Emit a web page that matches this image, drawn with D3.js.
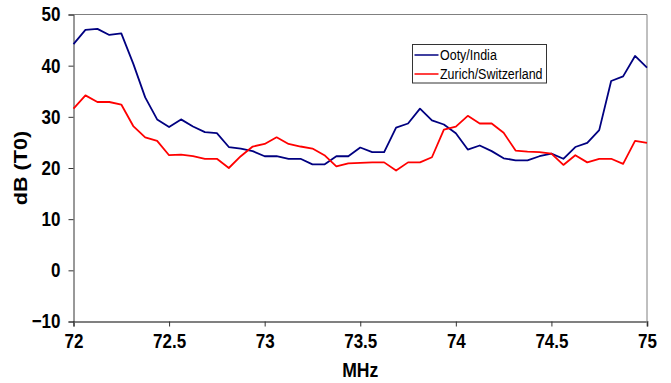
<!DOCTYPE html>
<html>
<head>
<meta charset="utf-8">
<script src="https://cdn.jsdelivr.net/npm/d3@7/dist/d3.min.js"></script>
<style>
  body { margin: 0; background: #fff; }
  svg { display: block; font-family: "Liberation Sans", Arial, sans-serif; }
</style>
</head>
<body>
<div id="chart"></div>
<script>
// frequency samples: 72 MHz to 75 MHz in steps of 1/16 MHz
const freqStart = 72, freqStep = 0.0625;

const ooty = [
    44.2, 47.0, 47.2, 46.0, 46.3, 40.4, 33.8, 29.5, 28.0, 29.5,
    28.1, 27.0, 26.8, 24.1, 23.8, 23.3, 22.3, 22.3, 21.8, 21.8,
    20.7, 20.7, 22.3, 22.3, 24.0, 23.1, 23.1, 27.9, 28.7, 31.6,
    29.3, 28.5, 26.8, 23.6, 24.4, 23.3, 21.9, 21.5, 21.5, 22.3,
    22.8, 21.8, 24.1, 24.9, 27.4, 37.0, 37.9, 41.9, 39.6
];

const zurich = [
    31.6, 34.2, 32.9, 32.9, 32.4, 28.2, 26.0, 25.3, 22.5, 22.6,
    22.3, 21.8, 21.8, 20.0, 22.3, 24.2, 24.7, 26.0, 24.7, 24.2,
    23.8, 22.5, 20.3, 20.9, 21.0, 21.1, 21.1, 19.5, 21.1, 21.1,
    22.1, 27.5, 28.1, 30.2, 28.7, 28.7, 26.9, 23.4, 23.2, 23.1,
    22.8, 20.6, 22.5, 21.1, 21.8, 21.8, 20.8, 25.3, 24.9
];

const xTicks = [72, 72.5, 73, 73.5, 74, 74.5, 75];
const yTicks = [-10, 0, 10, 20, 30, 40, 50];

const seriesNames = ["Ooty/India", "Zurich/Switzerland"];
const seriesColors = ["#000080", "#ff0000"];

// the source picture is stretched vertically, so text is drawn a bit tall and narrow
const squeeze = 0.85;

// move the x/y of a text into a transform so it can be squeezed horizontally
function squeezeText(sel, sx) {
    sel.each(function () {
        const t = d3.select(this);
        const xv = +t.attr("x") || 0, yv = +t.attr("y") || 0;
        t.attr("x", 0).attr("y", 0)
            .attr("transform", `translate(${xv},${yv}) scale(${sx},1)`);
    });
}

function drawChart() {
    const svgWidth = 671, svgHeight = 383;
    const margin = { top: 14.5, right: 24, bottom: 61.5, left: 73.5 };
    const width = svgWidth - margin.left - margin.right;
    const height = svgHeight - margin.top - margin.bottom;

    const svg = d3.select("#chart")
        .append("svg")
        .attr("width", svgWidth)
        .attr("height", svgHeight);

    const g = svg.append("g")
        .attr("transform", `translate(${margin.left}, ${margin.top})`);

    const x = d3.scaleLinear().domain([72, 75]).range([0, width]);
    const y = d3.scaleLinear().domain([-10, 50]).range([height, 0]);

    // plot frame (top and right edges)
    g.append("path")
        .attr("d", `M0,0H${width}V${height}`)
        .attr("fill", "none")
        .attr("stroke", "#808080")
        .attr("stroke-width", 1);

    // x axis
    const xAxis = g.append("g")
        .attr("transform", `translate(0, ${height})`)
        .call(d3.axisBottom(x).tickValues(xTicks).tickSize(5).tickPadding(7.5)
            .tickFormat(d => d3.format("")(d)));
    xAxis.select(".domain").attr("stroke", "#808080").attr("stroke-width", 2);
    xAxis.selectAll(".tick line").attr("stroke", "#333");
    xAxis.selectAll("text")
        .attr("fill", "#000")
        .style("font-size", "20px")
        .style("font-weight", "bold")
        .call(squeezeText, squeeze);

    // y axis
    const yAxis = g.append("g")
        .call(d3.axisLeft(y).tickValues(yTicks).tickSize(5).tickPadding(8));
    yAxis.select(".domain").attr("stroke", "#333");
    yAxis.selectAll(".tick line").attr("stroke", "#333");
    yAxis.selectAll("text")
        .attr("fill", "#000")
        .style("font-size", "20px")
        .style("font-weight", "bold")
        .call(squeezeText, squeeze);

    // axis titles
    svg.append("text")
        .attr("transform", `translate(${margin.left + width / 2}, 377) scale(0.88,1)`)
        .attr("text-anchor", "middle")
        .style("font-size", "20px")
        .style("font-weight", "bold")
        .text("MHz");

    svg.append("text")
        .attr("transform", `translate(27, ${margin.top + height / 2}) rotate(-90) scale(1.2,1)`)
        .attr("text-anchor", "middle")
        .style("font-size", "18px")
        .style("font-weight", "bold")
        .text("dB (T0)");

    // lines
    const line = d3.line()
        .x((d, i) => x(freqStart + i * freqStep))
        .y(d => y(d));

    [ooty, zurich].forEach((series, k) => {
        g.append("path")
            .datum(series)
            .attr("fill", "none")
            .attr("stroke", seriesColors[k])
            .attr("stroke-width", 1.8)
            .attr("stroke-linejoin", "round")
            .attr("d", line);
    });

    // legend
    const legend = svg.append("g").attr("transform", "translate(412.5, 44.5)");
    legend.append("rect")
        .attr("width", 134)
        .attr("height", 38.5)
        .attr("fill", "#fff")
        .attr("stroke", "#333");

    seriesNames.forEach((name, k) => {
        const row = legend.append("g").attr("transform", `translate(0, ${10.5 + k * 19})`);
        row.append("line")
            .attr("x1", 2).attr("x2", 26)
            .attr("stroke", seriesColors[k])
            .attr("stroke-width", 1.5);
        row.append("text")
            .attr("transform", "translate(27.5,0) scale(0.86,1)")
            .attr("dy", "0.35em")
            .style("font-size", "14.5px")
            .attr("fill", "#000")
            .text(name);
    });
}

document.addEventListener("DOMContentLoaded", drawChart);
</script>
</body>
</html>
